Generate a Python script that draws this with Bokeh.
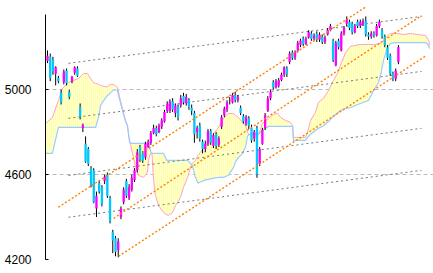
from bokeh.plotting import figure
from bokeh.models import Range1d, FixedTicker, ColumnDataSource
from bokeh.embed import file_html
from bokeh.resources import INLINE

# ---- candle data (bar index, prices) ----
opens = [5135,5155,5140,5075,5055,4985,5035,5090,4990,5040,5080,5100,4920,4820,4745,4720,4630,4620,4440,4560,
         4540,4570,4600,4490,4330,4300,4245,4400,4470,4570,4490,4530,4575,4620,4730,4700,4680,4730,4750,4795,
         4820,4800,4825,4850,4900,4900,4945,4890,4920,4925,4970,4935,4950,4915,4890,4800,4830,4755,4720,4745,
         4805,4735,4790,4740,4825,4880,4905,4950,4940,4975,4950,4915,4875,4840,4865,4820,4770,4820,4650,4745,
         4820,4900,4960,5035,5010,5020,5045,5070,5100,5130,5175,5150,5185,5210,5240,5215,5245,5265,5240,5265,
         5235,5250,5225,5260,5280,5230,5115,5230,5185,5265,5310,5320,5310,5270,5320,5300,5310,5325,5260,5250,
         5265,5255,5300,5280,5250,5200,5160,5075,5050,5130]
highs = [5185,5170,5155,5110,5065,5000,5095,5100,5000,5065,5110,5110,4935,4840,4780,4730,4640,4630,4520,4570,
         4550,4600,4610,4500,4340,4310,4300,4450,4540,4580,4555,4600,4630,4720,4740,4710,4755,4765,4805,4835,
         4830,4840,4865,4905,4945,4955,4960,4935,4930,4975,4985,4980,4960,4930,4900,4830,4845,4765,4760,4815,
         4815,4795,4800,4780,4880,4920,4950,4965,4985,4990,4975,4925,4885,4880,4875,4835,4810,4830,4730,4820,
         4890,4970,5000,5045,5050,5055,5080,5110,5110,5180,5185,5185,5230,5240,5250,5250,5280,5275,5265,5275,
         5270,5260,5255,5290,5310,5240,5230,5240,5275,5300,5345,5330,5320,5310,5330,5330,5335,5345,5270,5275,
         5275,5310,5330,5290,5260,5210,5170,5085,5100,5210]
lows = [5125,5040,5070,5020,5030,4930,5025,5020,4955,5030,5070,5060,4860,4800,4655,4640,4540,4465,4400,4510,
        4450,4555,4490,4370,4230,4215,4210,4390,4460,4490,4480,4520,4565,4610,4660,4655,4670,4725,4740,4790,
        4780,4795,4815,4845,4890,4890,4895,4870,4855,4915,4930,4925,4905,4880,4750,4770,4755,4700,4705,4735,
        4740,4725,4720,4730,4815,4870,4895,4930,4935,4940,4940,4880,4840,4830,4815,4750,4755,4585,4640,4740,
        4810,4895,4950,5000,5005,5010,5040,5060,5060,5120,5140,5140,5175,5200,5205,5210,5240,5230,5230,5225,
        5225,5215,5215,5255,5275,5130,5110,5190,5180,5255,5300,5280,5260,5265,5290,5290,5300,5250,5235,5240,
        5245,5250,5290,5240,5200,5140,5065,5040,5040,5120]
closes = [5160,5055,5085,5105,5040,4940,5085,5030,4965,5060,5105,5065,4870,4835,4660,4650,4550,4470,4500,4520,
          4460,4590,4500,4380,4290,4235,4285,4440,4530,4500,4540,4585,4620,4705,4670,4665,4745,4755,4795,4820,
          4790,4830,4855,4895,4930,4945,4905,4925,4870,4960,4940,4965,4920,4900,4790,4820,4770,4720,4745,4805,
          4750,4785,4735,4770,4870,4910,4940,4952,4975,4950,4965,4890,4850,4870,4830,4760,4800,4600,4720,4810,
          4880,4960,4990,5010,5040,5045,5070,5105,5075,5170,5150,5175,5220,5230,5215,5240,5270,5240,5255,5235,
          5260,5225,5245,5280,5300,5140,5220,5200,5265,5290,5330,5290,5270,5300,5300,5320,5325,5260,5250,5265,
          5255,5300,5320,5250,5210,5150,5075,5050,5090,5200]

# ---- cloud (leading spans) read at bar positions ----
cloud_x = [-0.7,1.8,4.0,5.5,7.7,11.4,13.2,14.7,15.8,16.9,17.7,18.75,19.5,21.7,23.2,24.3,25.7,26.4,26.8,27.7,
           28.7,29.4,30.1,30.5,31.6,32.4,33.5,35.3,36.8,37.1,37.9,38.4,39.0,39.7,40.8,42.6,43.9,44.5,46.0,47.1,
           48.9,50.0,51.5,52.6,53.3,54.4,55.3,56.25,58.1,60.7,62.9,64.7,66.5,68.4,69.1,70.2,71.7,72.8,73.5,74.0,
           77.6,79.0,81.25,83.1,84.6,85.7,87.5,89.3,90.1,90.4,94.85,95.6,96.7,98.5,99.6,101.5,103.3,105.1,106.6,107.7,
           109.6,111.4,115.0,118.0,119.9,121.7,122.6,123.5,125.0,126.1,127.9,130.9,133.5,136.0,139.0,140.1,140.5]
span_a = [4841,4869,4949,5006,5034,5053,5076,5076,5053,5034,5030,5025,5020,5012,5025,5025,5011,4973,4949,4902,
          4855,4825,4760,4742,4681,4634,4596,4587,4611,4667,4700,4700,4573,4502,4455,4422,4410,4408,4422,4455,
          4493,4540,4587,4634,4653,4667,4690,4705,4738,4785,4822,4865,4888,4888,4880,4869,4846,4832,4800,4789,
          4789,4841,4865,4884,4888,4869,4855,4846,4832,4775,4775,4799,4855,4893,4940,4959,4996,5044,5076,5114,
          5175,5204,5213,5213,5213,5215,5220,5232,5255,5265,5265,5260,5265,5260,5255,5232,5210]
span_b = [4700,4700,4822,4822,4822,4822,4822,4822,4822,4822,4822,4869,4926,4968,4985,5000,4996,4959,4940,4895,
          4850,4832,4761,4747,4747,4747,4747,4747,4747,4747,4710,4700,4700,4700,4700,4700,4667,4667,4667,4667,
          4667,4667,4667,4653,4640,4587,4560,4565,4575,4582,4587,4587,4597,4634,4660,4680,4700,4730,4780,4789,
          4789,4808,4827,4827,4827,4827,4827,4827,4827,4761,4761,4775,4790,4808,4818,4830,4850,4875,4890,4902,
          4910,4916,4935,4949,4996,5034,5076,5138,5199,5218,5222,5222,5222,5222,5222,5208,5194]

# ---- trend channel (orange) and grey guide lines: endpoints (bar, price) ----
orange_x0 = [4.0, 24.3, 26.1]
orange_y0 = [4446, 4394, 4215]
orange_x1 = [117.3, 137.5, 139.3]
orange_y1 = [5392, 5349, 5161]
grey_x0 = [7.7, 7.7, 7.7, 7.7]
grey_y0 = [5124, 4865, 4596, 4399]
grey_x1 = [137.5, 137.5, 137.5, 137.5]
grey_y1 = [5345, 5086, 4818, 4620]

y_ticks = [4200, 4600, 5000]

p = figure(width=433, height=273, x_range=Range1d(-0.735, 141.9), y_range=Range1d(4200, 5420),
           output_backend="svg", toolbar_location=None,
           min_border_left=45, min_border_right=0, min_border_top=0, min_border_bottom=14)
p.outline_line_color = None
p.background_fill_color = "white"
p.border_fill_color = "white"
p.xaxis.visible = False
p.xgrid.visible = False

ya = p.yaxis[0]
ya.ticker = FixedTicker(ticks=y_ticks)
ya.bounds = (4200, 5354)
ya.major_tick_in = 3
ya.major_tick_out = 0
ya.minor_tick_line_color = None
ya.axis_line_color = "black"
ya.major_tick_line_color = "black"
ya.major_label_standoff = 14
ya.major_label_text_font = "Liberation Sans"
ya.major_label_text_font_size = "12px"
ya.major_label_text_color = "black"

p.ygrid.ticker = FixedTicker(ticks=y_ticks)
p.ygrid.grid_line_color = "#BBBBBB"
p.ygrid.grid_line_dash = "4 3"
p.ygrid.grid_line_width = 1

# cloud
p.varea(x=cloud_x, y1=span_a, y2=span_b, fill_color="#FFFFD8",
        hatch_pattern="|", hatch_color="#FFFF80", hatch_scale=2, hatch_weight=1.2)
p.line(cloud_x, span_a, line_color="#FFA0C8", line_width=1)
p.line(cloud_x, span_b, line_color="#99CCFF", line_width=1.2)

# grey guide lines
p.segment(x0=grey_x0, y0=grey_y0, x1=grey_x1, y1=grey_y1, line_color="#777777",
          line_width=1, line_dash="2 3")

# candles
idx = list(range(len(closes)))
cols = ["#FF00FF" if c > o else ("#00C8FF" if c < o else "black") for o, c in zip(opens, closes)]
top = [max(o, c) for o, c in zip(opens, closes)]
bot = [min(o, c) if o != c else min(o, c) - 2 for o, c in zip(opens, closes)]
src = ColumnDataSource(dict(x=idx, o=opens, h=highs, l=lows, c=closes, top=top, bot=bot, col=cols))
p.segment(x0="x", y0="h", x1="x", y1="l", source=src, line_color="black", line_width=1)
p.vbar(x="x", top="top", bottom="bot", width=0.85, source=src, fill_color="col", line_color=None)

# orange channel
p.segment(x0=orange_x0, y0=orange_y0, x1=orange_x1, y1=orange_y1, line_color="#FF7F00",
          line_width=1.4, line_dash="2 2")

open("out.html", "w").write(file_html(p, INLINE))
